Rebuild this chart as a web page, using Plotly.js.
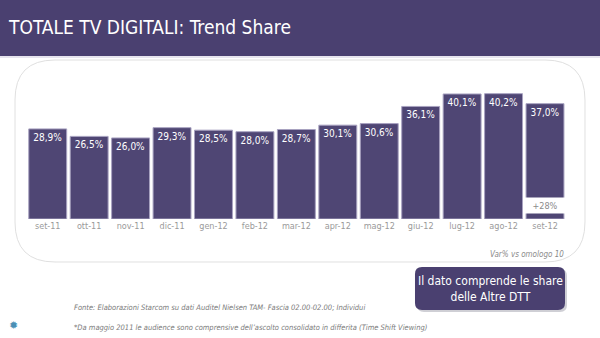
<!DOCTYPE html>
<html><head><meta charset="utf-8">
<script src="https://cdn.plot.ly/plotly-3.0.1.min.js"></script>
<style>html,body{margin:0;padding:0;background:#fff}#c{width:600px;height:338px}</style>
</head><body><div id="c"></div>
<script>
const months = ['set-11','ott-11','nov-11','dic-11','gen-12','feb-12','mar-12','apr-12','mag-12','giu-12','lug-12','ago-12','set-12'];
const shareValues = [28.9,26.5,26.0,29.3,28.5,28.0,28.7,30.1,30.6,36.1,40.1,40.2,37.0];
const varLabel = '+28%';
const titleText = 'TOTALE TV DIGITALI: Trend Share';
const varNote = 'Var% vs omologo 10';
const calloutText = 'Il dato comprende le share<br>delle Altre DTT';
const sourceNote = 'Fonte: Elaborazioni Starcom su dati Auditel Nielsen TAM- Fascia 02.00-02.00; Individui';
const footNote = '*Da maggio 2011 le audience sono comprensive dell\u2019ascolto consolidato in differita (Time Shift Viewing)';

const W=600,H=338,L=27,R=33,T=60,B=119;
const pw=W-L-R, ph=H-T-B;
const yMax=51;
const px=x=>(x-L)/pw, py=y=>(H-B-y)/ph;
function rrect(x0,y0,x1,y1,r){
  const f=(x,y)=>px(x).toFixed(4)+','+py(y).toFixed(4);
  return 'M'+f(x0+r,y0)+' L'+f(x1-r,y0)+' Q'+f(x1,y0)+' '+f(x1,y0+r)+' L'+f(x1,y1-r)+' Q'+f(x1,y1)+' '+f(x1-r,y1)+
   ' L'+f(x0+r,y1)+' Q'+f(x0,y1)+' '+f(x0,y1-r)+' L'+f(x0,y0+r)+' Q'+f(x0,y0)+' '+f(x0+r,y0)+' Z';
}
const purple='#4a4070';
const narrow='"DejaVu Sans Condensed", "Roboto", sans-serif';

const trace={type:'bar',x:months,y:shareValues,
  text:shareValues.map(v=>v.toFixed(1).replace('.',',')+'%'),
  textposition:'inside',insidetextanchor:'end',textangle:0,
  textfont:{color:'#ffffff',size:10,family:narrow},
  marker:{color:'#4f4674',line:{color:'#a8a2c0',width:1}},
  hoverinfo:'none'};

const lastIdx=months.length-1;
const layout={width:W,height:H,margin:{l:L,r:R,t:T,b:B,pad:0},
  paper_bgcolor:'#ffffff',plot_bgcolor:'rgba(0,0,0,0)',showlegend:false,bargap:0.085,
  xaxis:{showgrid:false,zeroline:false,showline:false,ticks:'',tickfont:{color:'#9a9a9a',size:9,family:narrow},fixedrange:true},
  yaxis:{range:[0,yMax],visible:false,fixedrange:true},
  shapes:[
    {type:'rect',xref:'paper',yref:'paper',x0:px(0),x1:px(600),y0:py(0),y1:py(56),fillcolor:purple,line:{width:0},layer:'below'},
    {type:'rect',xref:'paper',yref:'paper',x0:px(0),x1:px(600),y0:py(56),y1:py(58),fillcolor:'#e6e4ee',line:{width:0},layer:'below'},
    {type:'path',xref:'paper',yref:'paper',path:rrect(15,60,585,262,40),line:{color:'#e0e0e0',width:1},fillcolor:'rgba(0,0,0,0)',layer:'below'},
    {type:'path',xref:'paper',yref:'paper',path:rrect(417,269,567,312,7),line:{width:0},fillcolor:'#cfcfd5'},
    {type:'path',xref:'paper',yref:'paper',path:rrect(415,267,565,310,7),line:{width:0},fillcolor:purple}
  ],
  annotations:[
    {xref:'paper',yref:'paper',x:px(6),y:py(27),xanchor:'left',yanchor:'middle',showarrow:false,text:titleText,font:{color:'#ffffff',size:19,family:narrow}},
    {x:months[lastIdx],y:4.3,xref:'x',yref:'y',showarrow:false,text:varLabel,bgcolor:'#ffffff',width:42,height:15,borderpad:0,font:{color:'#8a8a8a',size:9,family:narrow}},
    {xref:'paper',yref:'paper',x:px(566),y:py(254),xanchor:'right',yanchor:'middle',showarrow:false,text:'<i>'+varNote+'</i>',font:{color:'#8a8a8a',size:8,family:narrow}},
    {xref:'paper',yref:'paper',x:px(490),y:py(288.5),xanchor:'center',yanchor:'middle',showarrow:false,text:calloutText,font:{color:'#ffffff',size:12,family:narrow}},
    {xref:'paper',yref:'paper',x:px(72),y:py(307),xanchor:'left',yanchor:'middle',showarrow:false,text:'<i>'+sourceNote+'</i>',font:{color:'#7a7a7a',size:7.5,family:narrow}},
    {xref:'paper',yref:'paper',x:px(72),y:py(327),xanchor:'left',yanchor:'middle',showarrow:false,text:'<i>'+footNote+'</i>',font:{color:'#7a7a7a',size:7.5,family:narrow}},
    {xref:'paper',yref:'paper',x:px(13),y:py(325),xanchor:'center',yanchor:'middle',showarrow:false,text:'\u2739',font:{color:'#4a8fb5',size:11,family:'DejaVu Sans'}}
  ]};
Plotly.newPlot('c',[trace],layout,{staticPlot:true,displayModeBar:false});
</script></body></html>
